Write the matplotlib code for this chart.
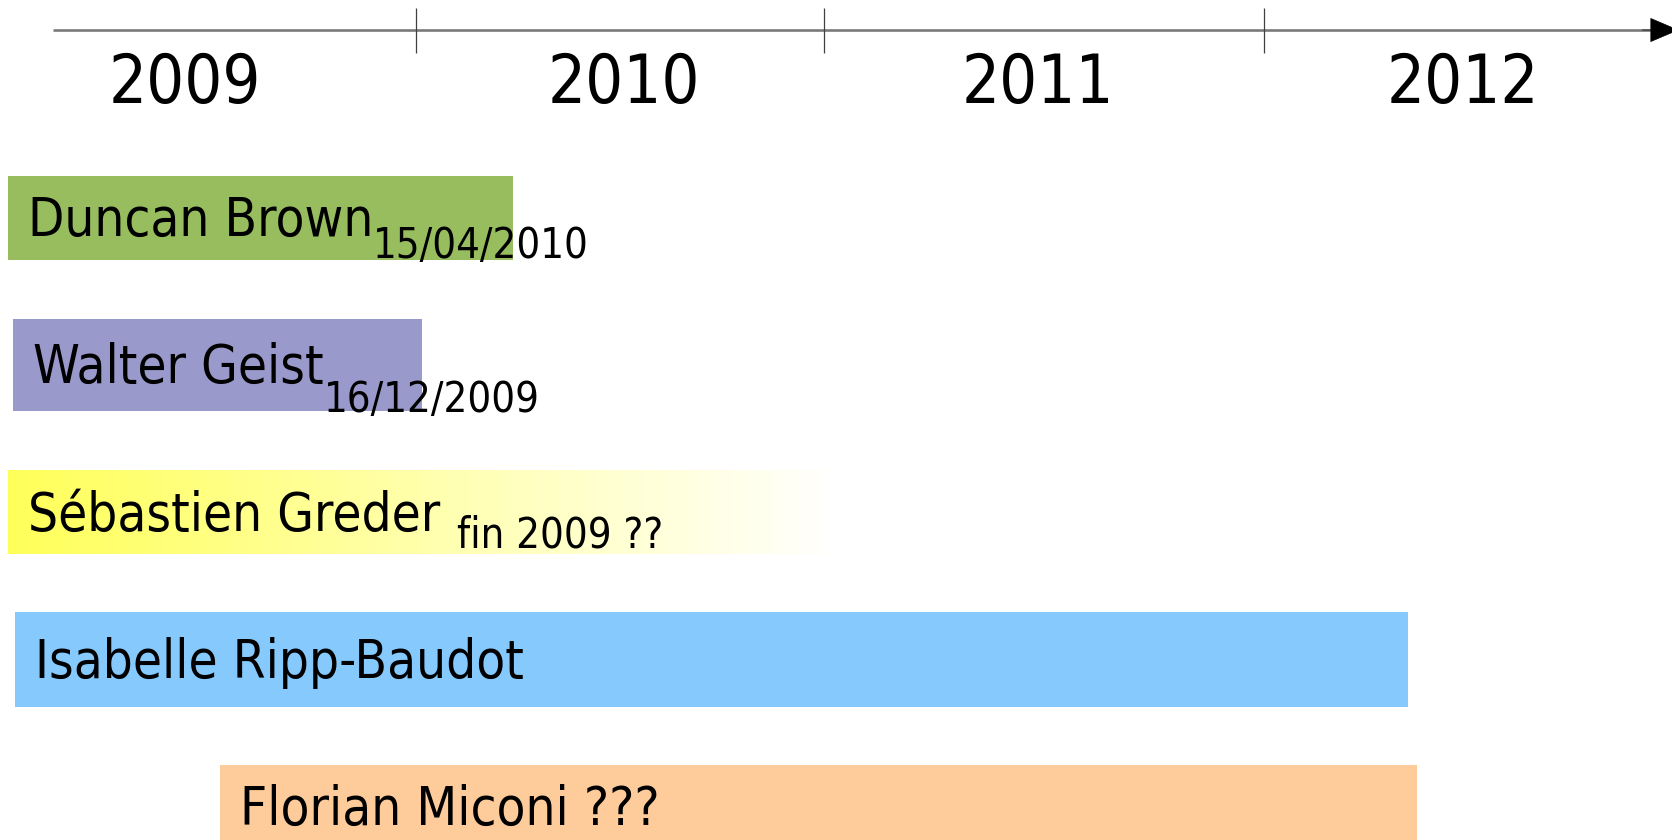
import matplotlib
matplotlib.use("Agg")
import matplotlib.pyplot as plt
import numpy as np
from matplotlib.colors import LinearSegmentedColormap
from matplotlib import font_manager as fm

# ---------------- data ----------------
names = ["Duncan Brown", "Walter Geist", "Sébastien Greder",
         "Isabelle Ripp-Baudot", "Florian Miconi ???"]
notes = ["15/04/2010", "16/12/2009", "fin 2009 ??", "", ""]
starts = [2009.039, 2009.052, 2009.039, 2009.056, 2009.539]   # in years
ends = [2010.228, 2010.014, 2011.002, 2012.334, 2012.355]
bar_heights = [0.564, 0.625, 0.570, 0.645, 0.577]             # in row units
tick_positions = [2010.0, 2010.96, 2011.995]
year_labels = ["2009", "2010", "2011", "2012"]
year_label_pos = [2009.456, 2010.489, 2011.464, 2012.464]

# ---------------- styles ----------------
colors = ["#98BD5F", "#9999CC", None, "#85C9FD", "#FECB9A"]
grad_left = "#FFFF5A"
note_gap_pts = [0, 0, 12]          # horizontal gap after name
note_drop_pts = [16, 21, 12]       # drop of note baseline below name baseline

# font choice: a condensed sans
cands = [("DejaVu Sans", "condensed"), ("DejaVu Sans Condensed", "normal")]
fam, stretch = "DejaVu Sans", "normal"
for f, s in cands:
    try:
        p = fm.findfont(fm.FontProperties(family=f, stretch=s), fallback_to_default=False)
        if "ondensed" in p:
            fam, stretch = f, s
            break
    except Exception:
        pass
FONT = dict(family=fam, stretch=stretch)

fig = plt.figure(figsize=(16.72, 8.40), dpi=100)
ax = fig.add_axes([0, 0, 1, 1])
ax.set_axis_off()
xmin, xmax = 2009.0212, 2012.9553
ax.set_xlim(xmin, xmax)
ax.set_ylim(4.224, -1.4805)

rows = np.arange(len(names))

# bars
for i, (s, e, h, c) in enumerate(zip(starts, ends, bar_heights, colors)):
    if c is None:
        cmap = LinearSegmentedColormap.from_list("fade", [grad_left, "#FFFFFF"])
        grad = np.linspace(0, 1, 256).reshape(1, -1)
        ax.imshow(grad, cmap=cmap, aspect="auto", interpolation="bilinear",
                  extent=[s, e, rows[i] + h / 2, rows[i] - h / 2], zorder=1)
    else:
        ax.barh(rows[i], e - s, left=s, height=h, color=c, edgecolor="none", zorder=1)

# names and notes
for i, name in enumerate(names):
    t = ax.annotate(name, xy=(starts[i], rows[i]), xytext=(14.5, -13),
                    textcoords="offset points", ha="left", va="baseline",
                    fontsize=38, color="black", zorder=3, **FONT)
    if notes[i]:
        ax.annotate(notes[i], xy=(1, rows[i]), xycoords=(t, "data"),
                    xytext=(note_gap_pts[i], -13 - note_drop_pts[i]),
                    textcoords="offset points", ha="left", va="baseline",
                    fontsize=30, color="black", zorder=3, **FONT)

# timeline axis
axis_y = -1.2767
ax.plot([2009.146, xmax], [axis_y, axis_y], color="#7A7A7A", lw=1.9,
        solid_capstyle="butt", zorder=2)
ax.vlines(tick_positions, -1.4295, -1.1205, color="#404040", lw=0.9, zorder=2)
ax.annotate("", xy=(xmax + 0.016, axis_y), xytext=(xmax - 0.07, axis_y),
            arrowprops=dict(arrowstyle="-|>,head_length=19.5,head_width=8.3",
                            mutation_scale=1, color="black", lw=0.5,
                            shrinkA=0, shrinkB=0),
            annotation_clip=False, zorder=3)

for lab, pos in zip(year_labels, year_label_pos):
    ax.text(pos, -0.781, lab, ha="center", va="baseline", fontsize=48,
            color="black", **FONT)

fig.savefig("out.png", dpi=100, facecolor="white")
